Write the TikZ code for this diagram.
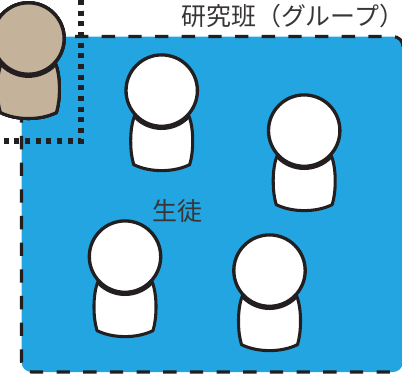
\documentclass[tikz,border=0pt]{standalone}
\usepackage{fontspec}
\setmainfont{Noto Sans CJK JP}
\definecolor{groupblue}{HTML}{22A5E0}
\definecolor{teachertan}{HTML}{C4B39A}
\definecolor{inkblack}{HTML}{231F20}
\tikzset{
    labeltext/.style={color=inkblack!90, font=\fontsize{18.7}{20}\selectfont, anchor=base west, inner sep=0pt, text height=14pt, text depth=3pt},
    groupline/.style={color=inkblack, line width=2.3pt, dash pattern=on 10pt off 10pt, rounded corners=7.5pt}
}
\newcommand{\drawperson}[3]{
    % body
    \draw[shift={(#1,#2)}, line width=2.3pt, color=inkblack, fill=#3, line join=round]
        (-27,25) .. controls (-30,32) and (-31,42) .. (-31,50)
        .. controls (-31,60) and (-30,67) .. (-28,74)
        .. controls (-12,82) and (12,82) .. (28,74)
        .. controls (30,67) and (31,60) .. (31,50)
        .. controls (31,42) and (30,32) .. (27,25) -- cycle;
    % shadow under head
    \draw[shift={(#1,#2)}, line width=3pt, color=inkblack]
        (-26,26.6) .. controls (-11.6,41) and (11.6,41) .. (26,26.6);
    % head
    \draw[shift={(#1,#2)}, line width=2.5pt, color=inkblack, fill=#3] (0,0) circle (35.7);
}
\begin{document}
\begin{tikzpicture}[x=0.75pt, y=-0.75pt]
    \useasboundingbox (0,0) rectangle (402,380);
    \clip (0,0) rectangle (402,380);
    % draw group area
    \fill[groupblue, rounded corners=7.5pt] (21.5,36.5) rectangle (403,372);
    \draw[groupline] (75,36.5) -- (403,36.5) -- (403,47);
    \draw[groupline] (21.5,109.3) -- (21.5,372) -- (392,372);
    % draw students
    \foreach \x/\y in {161.7/90.6, 304.2/130.6, 125/256.6, 269.5/270.6}
        \drawperson{\x}{\y}{white}
    % draw teacher
    \drawperson{28.4}{38.5}{teachertan}
    % draw dotted border
    \draw[color=inkblack, line width=3.8pt, dash pattern=on 3.8pt off 4.2pt]
        (81,0) -- (81,141) -- (0,141);
    % labels
    \node[labeltext] (groupname) at (181,25) {研究班（グループ）};
    \node[labeltext] (studentname) at (152,220) {生徒};
\end{tikzpicture}
\end{document}
